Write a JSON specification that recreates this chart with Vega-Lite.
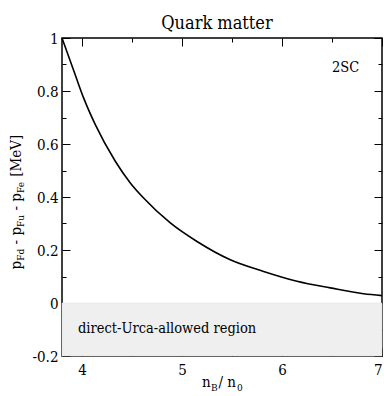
{
  "$schema": "https://vega.github.io/schema/vega-lite/v6.json",
  "width": 320,
  "height": 318,
  "autosize": "none",
  "padding": {"left": 62, "top": 38, "right": 2, "bottom": 40},
  "title": {"text": "Quark matter", "fontSize": 18, "font": "DejaVu Serif Condensed, DejaVu Serif", "fontWeight": "normal", "color": "#000", "baseline": "bottom", "offset": -20, "dx": -5},
  "config": {
    "font": "DejaVu Serif Condensed, DejaVu Serif",
    "view": {"stroke": "#000", "strokeWidth": 1.5},
    "text": {"font": "DejaVu Serif Condensed, DejaVu Serif"},
    "axis": {"grid": false, "domain": false, "tickColor": "#000", "tickWidth": 1, "labelColor": "#000", "labelFont": "DejaVu Serif Condensed, DejaVu Serif", "labelFontSize": 15, "title": null}
  },
  "datasets": {
    "curve": [
      {"x": 3.8, "y": 1.0},
      {"x": 3.933, "y": 0.86},
      {"x": 4.017, "y": 0.773},
      {"x": 4.133, "y": 0.673},
      {"x": 4.333, "y": 0.535},
      {"x": 4.483, "y": 0.453},
      {"x": 4.616, "y": 0.396},
      {"x": 4.883, "y": 0.302},
      {"x": 5.15, "y": 0.232},
      {"x": 5.483, "y": 0.163},
      {"x": 5.816, "y": 0.119},
      {"x": 6.15, "y": 0.082},
      {"x": 6.483, "y": 0.057},
      {"x": 6.816, "y": 0.035},
      {"x": 7.0, "y": 0.028}
    ],
    "region": [{"x1": 3.8, "x2": 7, "y1": -0.2, "y2": 0}],
    "notes": [
      {"t": "2SC", "x": 6.5, "y": 0.873},
      {"t": "direct-Urca-allowed region", "x": 3.96, "y": -0.112}
    ],
    "ymain": [
      {"t": "p", "x": 3.39, "y": 0.126},
      {"t": "- p", "x": 3.39, "y": 0.221},
      {"t": "- p", "x": 3.39, "y": 0.349},
      {"t": "[MeV]", "x": 3.39, "y": 0.476}
    ],
    "ysub": [
      {"t": "Fd", "x": 3.42, "y": 0.159},
      {"t": "Fu", "x": 3.42, "y": 0.287},
      {"t": "Fe", "x": 3.42, "y": 0.415}
    ],
    "xmain": [
      {"t": "n", "x": 5.2, "y": -0.317},
      {"t": "/ n", "x": 5.365, "y": -0.317}
    ],
    "xsub": [
      {"t": "B", "x": 5.29, "y": -0.332},
      {"t": "0", "x": 5.55, "y": -0.332}
    ]
  },
  "layer": [
    {
      "data": {"name": "region"},
      "mark": {"type": "rect", "fill": "#efefef", "stroke": "#dddddd", "strokeWidth": 0.5},
      "encoding": {
        "x": {"field": "x1", "type": "quantitative", "scale": {"domain": [3.8, 7], "nice": false, "zero": false},
          "axis": {"orient": "top", "values": [4, 4.5, 5, 5.5, 6, 6.5, 7], "labels": false,
            "tickSize": {"condition": {"test": "datum.value % 1 !== 0", "value": -4}, "value": -8}}},
        "x2": {"field": "x2"},
        "y": {"field": "y1", "type": "quantitative", "scale": {"domain": [-0.2, 1], "nice": false, "zero": false},
          "axis": {"orient": "right", "values": [-0.2, -0.1, 0, 0.1, 0.2, 0.3, 0.4, 0.5, 0.6, 0.7, 0.8, 0.9, 1], "labels": false,
            "tickSize": {"condition": {"test": "abs(round(datum.value*10)) % 2 === 1", "value": -4}, "value": -8}}},
        "y2": {"field": "y2"}
      }
    },
    {
      "data": {"name": "curve"},
      "mark": {"type": "line", "color": "#000", "strokeWidth": 1.6, "interpolate": "monotone"},
      "encoding": {
        "x": {"field": "x", "type": "quantitative", "scale": {"domain": [3.8, 7], "nice": false, "zero": false},
          "axis": {"orient": "bottom", "values": [4, 4.5, 5, 5.5, 6, 6.5, 7], "labelFlush": true, "labelPadding": 14,
            "labelExpr": "datum.value % 1 === 0 ? format(datum.value, 'd') : ''",
            "tickSize": {"condition": {"test": "datum.value % 1 !== 0", "value": -4}, "value": -8}}},
        "y": {"field": "y", "type": "quantitative", "scale": {"domain": [-0.2, 1], "nice": false, "zero": false},
          "axis": {"orient": "left", "values": [-0.2, -0.1, 0, 0.1, 0.2, 0.3, 0.4, 0.5, 0.6, 0.7, 0.8, 0.9, 1], "labelFlush": false, "labelPadding": 12,
            "labelExpr": "abs(round(datum.value*10)) % 2 === 0 ? replace(format(datum.value, '.1~f'), '\u2212', '-') : ''",
            "tickSize": {"condition": {"test": "abs(round(datum.value*10)) % 2 === 1", "value": -4}, "value": -8}}}
      }
    },
    {
      "data": {"name": "notes"},
      "mark": {"type": "text", "align": "left", "baseline": "alphabetic", "fontSize": 14.5, "color": "#000"},
      "encoding": {
        "x": {"field": "x", "type": "quantitative", "axis": null},
        "y": {"field": "y", "type": "quantitative", "axis": null},
        "text": {"field": "t", "type": "nominal"}
      }
    },
    {
      "data": {"name": "ymain"},
      "mark": {"type": "text", "align": "left", "baseline": "alphabetic", "angle": 270, "fontSize": 15, "color": "#000"},
      "encoding": {
        "x": {"field": "x", "type": "quantitative", "axis": null},
        "y": {"field": "y", "type": "quantitative", "axis": null},
        "text": {"field": "t", "type": "nominal"}
      }
    },
    {
      "data": {"name": "ysub"},
      "mark": {"type": "text", "align": "left", "baseline": "alphabetic", "angle": 270, "fontSize": 10, "color": "#000"},
      "encoding": {
        "x": {"field": "x", "type": "quantitative", "axis": null},
        "y": {"field": "y", "type": "quantitative", "axis": null},
        "text": {"field": "t", "type": "nominal"}
      }
    },
    {
      "data": {"name": "xmain"},
      "mark": {"type": "text", "align": "left", "baseline": "alphabetic", "fontSize": 15, "color": "#000"},
      "encoding": {
        "x": {"field": "x", "type": "quantitative", "axis": null},
        "y": {"field": "y", "type": "quantitative", "axis": null},
        "text": {"field": "t", "type": "nominal"}
      }
    },
    {
      "data": {"name": "xsub"},
      "mark": {"type": "text", "align": "left", "baseline": "alphabetic", "fontSize": 10, "color": "#000"},
      "encoding": {
        "x": {"field": "x", "type": "quantitative", "axis": null},
        "y": {"field": "y", "type": "quantitative", "axis": null},
        "text": {"field": "t", "type": "nominal"}
      }
    }
  ],
  "resolve": {"axis": {"x": "independent", "y": "independent"}}
}
